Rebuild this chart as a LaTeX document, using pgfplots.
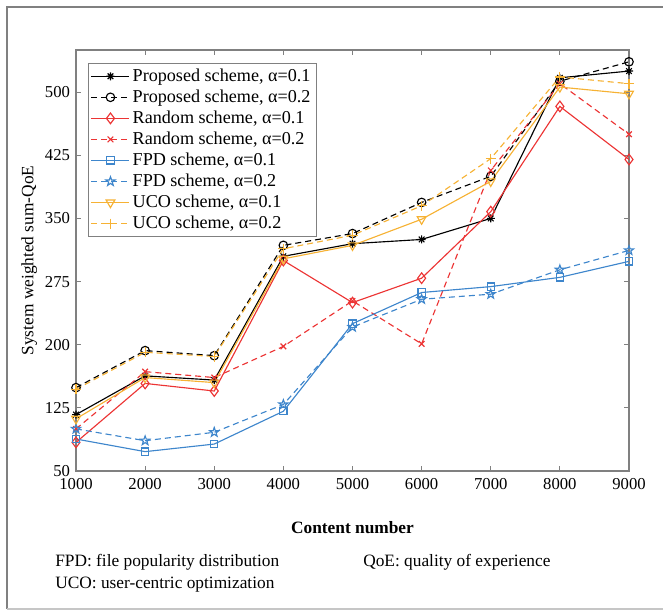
\documentclass[border=0pt]{standalone}
\usepackage{fontspec}
\setmainfont{Liberation Serif}
\usepackage{pgfplots}
\pgfplotsset{compat=1.18}
\usetikzlibrary{plotmarks}

\definecolor{cred}{RGB}{236,52,52}
\definecolor{cblue}{RGB}{62,134,204}
\definecolor{corange}{RGB}{246,178,52}
\definecolor{frame}{RGB}{128,128,128}

% five-pointed outlined star (MATLAB 'p')
\pgfdeclareplotmark{pstar}{%
  \pgfpathmoveto{\pgfpointpolar{90}{\pgfplotmarksize}}%
  \pgfpathlineto{\pgfpointpolar{126}{0.4\pgfplotmarksize}}%
  \pgfpathlineto{\pgfpointpolar{162}{\pgfplotmarksize}}%
  \pgfpathlineto{\pgfpointpolar{198}{0.4\pgfplotmarksize}}%
  \pgfpathlineto{\pgfpointpolar{234}{\pgfplotmarksize}}%
  \pgfpathlineto{\pgfpointpolar{270}{0.4\pgfplotmarksize}}%
  \pgfpathlineto{\pgfpointpolar{306}{\pgfplotmarksize}}%
  \pgfpathlineto{\pgfpointpolar{342}{0.4\pgfplotmarksize}}%
  \pgfpathlineto{\pgfpointpolar{18}{\pgfplotmarksize}}%
  \pgfpathlineto{\pgfpointpolar{54}{0.4\pgfplotmarksize}}%
  \pgfpathclose\pgfusepathqstroke}
% eight-armed asterisk (MATLAB '*')
\pgfdeclareplotmark{mstar}{%
  \pgfpathmoveto{\pgfqpoint{-\pgfplotmarksize}{0pt}}\pgfpathlineto{\pgfqpoint{\pgfplotmarksize}{0pt}}%
  \pgfpathmoveto{\pgfqpoint{0pt}{-\pgfplotmarksize}}\pgfpathlineto{\pgfqpoint{0pt}{\pgfplotmarksize}}%
  \pgfpathmoveto{\pgfpointpolar{45}{\pgfplotmarksize}}\pgfpathlineto{\pgfpointpolar{225}{\pgfplotmarksize}}%
  \pgfpathmoveto{\pgfpointpolar{135}{\pgfplotmarksize}}\pgfpathlineto{\pgfpointpolar{315}{\pgfplotmarksize}}%
  \pgfusepathqstroke}

\pgfplotstableread{
x     P1   P2   R1   R2   F1   F2   U1   U2
1000  117  149  84   100  88   100  112  147
2000  163  193  154  168  73   86   161  191
3000  158  187  145  161  82   96   155  186
4000  305  318  300  198  121  129  302  314
5000  320  332  250  252  225  221  318  330
6000  325  369  279  201  262  254  349  365
7000  350  400  358  407  269  260  394  421
8000  517  513  483  510  280  289  506  518
9000  525  536  420  450  299  312  498  510
}\qoe

\begin{document}
\fontsize{13}{15.6}\selectfont
\begin{tikzpicture}
\useasboundingbox (0pt,0pt) rectangle (497.25pt,-458.25pt);
\begin{axis}[
at={(57pt,-353.25pt)}, anchor=south west,
scale only axis, width=414.75pt, height=315.75pt,
xmin=1000, xmax=9000, ymin=50, ymax=550,
xtick={1000,2000,...,9000},
ytick={50,125,200,275,350,425,500},
/pgf/number format/.cd, 1000 sep={}, assume math mode=true, /pgfplots/.cd,
tick align=inside, major tick length=3.5pt,
axis line style={frame, line width=0.8pt},
every tick/.style={frame, line width=0.6pt},
tick label style={font=\fontsize{12.5}{14}\selectfont},
xticklabel style={yshift=-1pt},
xlabel={\bfseries Content number},
ylabel={System weighted sum-QoE},
xlabel style={yshift=-15pt},
ylabel style={yshift=-3pt},
legend cell align=left,
legend style={at={(0.0217,0.969)}, anchor=north west, draw=frame,
  font=\fontsize{13.6}{15.6}\selectfont, row sep=0.4pt, inner sep=2pt},
legend image code/.code={\draw[line width=0.85pt, mark repeat=2,mark phase=2] plot coordinates {(0cm,0cm) (0.5cm,0cm) (1cm,0cm)};},
every axis plot/.append style={line width=0.85pt, mark size=3.2pt},
]
\addplot[black, mark=mstar, mark size=3pt] table[x=x,y=P1] {\qoe};
\addplot[black, dash pattern=on 4.5pt off 3pt, mark=o, mark options={solid}] table[x=x,y=P2] {\qoe};
\addplot[cred, mark=diamond, mark size=4pt] table[x=x,y=R1] {\qoe};
\addplot[cred, dash pattern=on 4.5pt off 3pt, mark=x, mark options={solid}, mark size=3pt] table[x=x,y=R2] {\qoe};
\addplot[cblue, mark=square, mark size=2.7pt] table[x=x,y=F1] {\qoe};
\addplot[cblue, dash pattern=on 4.5pt off 3pt, mark=pstar, mark options={solid}, mark size=3.6pt] table[x=x,y=F2] {\qoe};
\addplot[corange, mark=triangle, mark options={rotate=180}, mark size=3.8pt] table[x=x,y=U1] {\qoe};
\addplot[corange, dash pattern=on 4.5pt off 3pt, mark=+, mark options={solid}, mark size=3.8pt] table[x=x,y=U2] {\qoe};
\legend{{Proposed scheme, α=0.1}, {Proposed scheme, α=0.2}, {Random scheme, α=0.1}, {Random scheme, α=0.2},
  {FPD scheme, α=0.1}, {FPD scheme, α=0.2}, {UCO scheme, α=0.1}, {UCO scheme, α=0.2}}
\end{axis}
\begin{scope}[x=0.75pt,y=-0.75pt]
\draw[frame, line width=1.3pt] (663,7) -- (7,7) -- (7,609);
\draw[gray!45, line width=0.8pt] (7,609) -- (663,609);
\node[anchor=west, inner sep=0pt] at (55,562) {FPD: file popularity distribution};
\node[anchor=west, inner sep=0pt] at (55,585) {UCO: user-centric optimization};
\node[anchor=west, inner sep=0pt] at (363,562) {QoE: quality of experience};
\end{scope}
\end{tikzpicture}
\end{document}
